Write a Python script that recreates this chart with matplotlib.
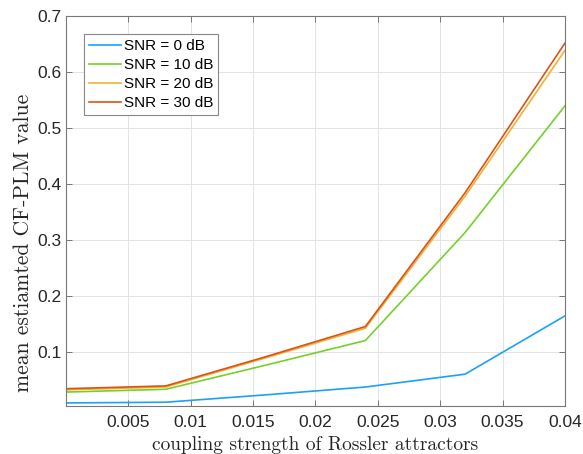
import numpy as np
import matplotlib
matplotlib.use("Agg")
import matplotlib.pyplot as plt

# coupling strength values
coupling = [0.0, 0.008, 0.016, 0.024, 0.032, 0.04]

snr_0 = [0.0086, 0.0099, 0.023, 0.037, 0.060, 0.164]
snr_10 = [0.028, 0.033, 0.076, 0.120, 0.313, 0.539]
snr_20 = [0.032, 0.037, 0.089, 0.142, 0.378, 0.638]
snr_30 = [0.034, 0.039, 0.091, 0.145, 0.384, 0.651]

labels = ["SNR = 0 dB", "SNR = 10 dB", "SNR = 20 dB", "SNR = 30 dB"]
colors = ["#1AA3F5", "#73D12B", "#F2B134", "#D95319"]

xticks = [0.005, 0.01, 0.015, 0.02, 0.025, 0.03, 0.035, 0.04]
xticklabels = ["0.005", "0.01", "0.015", "0.02", "0.025", "0.03", "0.035", "0.04"]
yticks = [0.1, 0.2, 0.3, 0.4, 0.5, 0.6, 0.7]
yticklabels = ["0.1", "0.2", "0.3", "0.4", "0.5", "0.6", "0.7"]

plt.rcParams["font.family"] = ["Liberation Sans", "DejaVu Sans"]

fig = plt.figure(figsize=(5.83, 4.54), dpi=100)
ax = fig.add_axes([0.1132, 0.1068, 0.8558, 0.8586])

for y, lab, c in zip([snr_0, snr_10, snr_20, snr_30], labels, colors):
    ax.plot(coupling, y, color=c, linewidth=1.2, label=lab)

ax.set_xlim(0, 0.04)
ax.set_ylim(0.004, 0.7)
ax.set_xticks(xticks)
ax.set_xticklabels(xticklabels)
ax.set_yticks(yticks)
ax.set_yticklabels(yticklabels)

ax.grid(True, color="#e3e3e3", linewidth=0.7)
ax.set_axisbelow(True)
ax.tick_params(direction="in", length=4, width=0.7, colors="#777777",
               labelcolor="#262626", labelsize=12.5, top=True, right=True)
ax.tick_params(axis="y", pad=3)
ax.tick_params(axis="x", pad=7)
for sp in ax.spines.values():
    sp.set_color("#777777")
    sp.set_linewidth(0.8)

ax.set_xlabel("coupling strength of Rossler attractors", family="cmr10",
              fontsize=14, color="#262626")
ax.set_ylabel("mean estiamted CF-PLM value", family="cmr10",
              fontsize=15.5, color="#262626")
ax.xaxis.set_label_coords(0.5, -0.079)
ax.yaxis.set_label_coords(-0.067, 0.418)

leg = ax.legend(loc="upper left", bbox_to_anchor=(0.036, 0.953), fontsize=11,
                fancybox=False, framealpha=1, edgecolor="#888888",
                handlelength=2.1, handletextpad=0.15, labelspacing=0.32,
                borderpad=0.35, borderaxespad=0)
leg.get_frame().set_linewidth(0.8)

fig.savefig("out.png", dpi=100)
